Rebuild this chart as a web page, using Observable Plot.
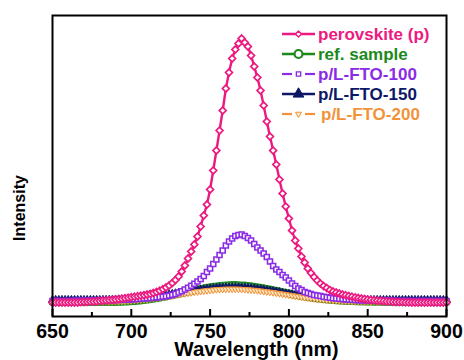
<!DOCTYPE html>
<html><head><meta charset="utf-8">
<script src="https://cdn.jsdelivr.net/npm/d3@7"></script>
<script src="https://cdn.jsdelivr.net/npm/@observablehq/plot@0.6"></script>
<style>
body{margin:0;background:#fff}
#chart{position:relative;width:464px;height:360px;overflow:hidden}
</style>
</head><body><div id="chart"></div>
<script>
// x grid of the spectra (nm)
const wavelengths = d3.range(650, 901, 2);
const xTicks = [650, 700, 750, 800, 850, 900];
const xMinorTicks = [675, 725, 775, 825, 875];
const seriesNames = ["perovskite (p)", "ref. sample", "p/L-FTO-100", "p/L-FTO-150", "p/L-FTO-200"];
const seriesColors = ["#ec1a80", "#1b8a1b", "#8a2be6", "#0c1766", "#f2933a"];

// intensity (a.u.), 650..900 nm every 2 nm
const perovskite = [
  0,0,0,0,0,0,0,0,0,0.3,
  0.5,0.6,0.8,1,1.2,1.5,1.8,2,2.3,2.7,
  3,3.4,3.8,4.3,4.8,5.3,5.8,6.3,6.8,7.4,
  8,8.7,9.5,10.5,11.8,13.3,15,17,19.5,22.5,
  26,31,37,44,51,58,66,76,87,98,
  113,132,152,172,192,214,230,244,253,259,
  264,260,256,247,236,225,212,197,181,166,
  152,138,123,109,96,84,72,62,54,46,
  40,34,29.5,25.5,22,19,16.5,14.5,12.5,11,
  10,9,8,7.3,6.5,5.8,5.1,4.5,4,3.5,
  3,2.6,2.2,1.9,1.6,1.3,1.1,0.9,0.7,0.5,
  0.4,0.3,0.2,0.1,0,0,0,0,0,0,
  0,0,0,0,0,0
];
const refSample = [
  0.5,0.5,0.5,0.5,0.5,0.5,0.5,0.5,0.5,0.5,
  0.5,0.5,0.5,0.5,0.4,0.4,0.4,0.4,0.4,0.5,
  0.5,0.6,0.7,0.8,1,1.2,1.4,1.7,2,2.4,
  2.8,3.2,3.7,4.2,4.8,5.4,6,6.7,7.4,8.1,
  8.8,9.5,10.2,10.9,11.6,12.3,13,13.6,14.2,14.8,
  15.3,15.8,16.2,16.6,16.9,17.2,17.4,17.5,17.5,17.4,
  17.2,17,16.7,16.3,15.9,15.4,14.9,14.3,13.7,13.1,
  12.4,11.8,11.1,10.4,9.7,9.1,8.4,7.8,7.2,6.6,
  6,5.5,5,4.5,4.1,3.7,3.3,3,2.7,2.4,
  2.2,2,1.8,1.6,1.4,1.3,1.2,1.1,1,0.9,
  0.8,0.8,0.7,0.7,0.7,0.6,0.6,0.6,0.6,0.5,
  0.5,0.5,0.5,0.5,0.5,0.5,0.5,0.5,0.5,0.5,
  0.5,0.5,0.5,0.5,0.5,0.5
];
const fto100 = [
  1.5,1.5,1.5,1.5,1.5,1.5,1.5,1.6,1.6,1.7,
  1.7,1.8,1.8,1.9,2,2,2.1,2.2,2.3,2.4,
  2.5,2.6,2.7,2.8,3,3.1,3.3,3.5,3.7,4,
  4.2,4.5,4.8,5.1,5.5,5.9,6.3,6.9,7.6,8.5,
  10,11.3,13,14.8,16.7,18.8,21,23.5,26.5,30.5,
  34,38.5,43,47.5,52,57,61,64,66.5,67.5,
  68,66.5,64.5,62,58.5,55,52,49,45.5,41,
  36.5,33,30.5,27.5,25,22,19,16.5,14,12.5,
  10.5,9.5,8.5,7.5,7,6.5,5.8,5.2,4.7,4.3,
  4,3.7,3.4,3.1,2.9,2.7,2.5,2.3,2.2,2.1,
  2,1.9,1.8,1.8,1.7,1.7,1.6,1.6,1.6,1.5,
  1.5,1.5,1.5,1.5,1.5,1.5,1.5,1.5,1.5,1.5,
  1.5,1.5,1.5,1.5,1.5,1.5
];
const fto150 = [
  2.5,2.5,2.5,2.5,2.5,2.5,2.5,2.5,2.5,2.5,
  2.5,2.5,2.5,2.5,2.5,2.5,2.6,2.6,2.7,2.8,
  2.9,3,3.1,3.3,3.5,3.7,3.9,4.2,4.5,4.8,
  5.1,5.5,5.9,6.3,6.7,7.1,7.6,8.1,8.6,9.1,
  9.6,10.1,10.6,11.1,11.6,12,12.4,12.8,13.2,13.6,
  13.9,14.2,14.5,14.7,14.9,15,15.1,15.2,15.2,15.1,
  15,14.8,14.6,14.3,14,13.6,13.2,12.8,12.3,11.8,
  11.3,10.8,10.3,9.7,9.2,8.7,8.2,7.7,7.2,6.7,
  6.3,5.9,5.5,5.1,4.8,4.5,4.2,3.9,3.7,3.5,
  3.3,3.1,3,2.9,2.8,2.7,2.6,2.6,2.5,2.5,
  2.5,2.5,2.5,2.5,2.5,2.5,2.5,2.5,2.5,2.5,
  2.5,2.5,2.5,2.5,2.5,2.5,2.5,2.5,2.5,2.5,
  2.5,2.5,2.5,2.5,2.5,2.5
];
const fto200 = [
  0.8,0.8,0.8,0.8,0.8,0.8,0.8,0.8,0.8,0.8,
  0.8,0.8,0.8,0.8,0.8,0.9,0.9,1,1,1.1,
  1.2,1.3,1.4,1.6,1.8,2,2.2,2.5,2.8,3.1,
  3.4,3.8,4.2,4.6,5,5.5,6,6.5,7,7.5,
  8,8.5,9,9.5,10,10.4,10.8,11.2,11.6,12,
  12.3,12.6,12.9,13.1,13.3,13.4,13.5,13.5,13.5,13.4,
  13.3,13.1,12.9,12.6,12.3,12,11.6,11.2,10.8,10.4,
  10,9.5,9,8.5,8,7.5,7,6.5,6,5.5,
  5.1,4.7,4.3,3.9,3.5,3.2,2.9,2.6,2.4,2.2,
  2,1.8,1.6,1.5,1.4,1.3,1.2,1.1,1,1,
  0.9,0.9,0.9,0.8,0.8,0.8,0.8,0.8,0.8,0.8,
  0.8,0.8,0.8,0.8,0.8,0.8,0.8,0.8,0.8,0.8,
  0.8,0.8,0.8,0.8,0.8,0.8
];

const toRows = arr => wavelengths.map((w, i) => ({w, v: arr[i]}));

const triangleDown = {
  draw(context, size) {
    const h = Math.sqrt(size / (Math.sqrt(3) * 3));
    context.moveTo(0, 2 * h);
    context.lineTo(-Math.sqrt(3) * h, -h);
    context.lineTo(Math.sqrt(3) * h, -h);
    context.closePath();
  }
};

const FONT = "'Liberation Sans', Arial, sans-serif";
const [cP, cG, cPu, cN, cO] = seriesColors;

const svg = Plot.plot({
  width: 464, height: 360,
  marginTop: 15, marginBottom: 44, marginLeft: 52, marginRight: 18,
  x: {domain: [650, 900], axis: null},
  y: {domain: [-14, 287], axis: null},
  style: {fontFamily: FONT, background: "white", overflow: "visible"},
  marks: [
    // series, back to front
    Plot.line(toRows(refSample), {x: "w", y: "v", stroke: cG, strokeWidth: 1.5}),
    Plot.dot(toRows(refSample), {x: "w", y: "v", symbol: "circle", r: 3.2, fill: "#6fb86f", stroke: cG, strokeWidth: 1.4}),
    Plot.line(toRows(fto150), {x: "w", y: "v", stroke: cN, strokeWidth: 1.8}),
    Plot.dot(toRows(fto150), {x: "w", y: "v", symbol: "triangle", r: 3, fill: cN, stroke: cN, strokeWidth: 0.8}),
    Plot.dot(toRows(fto200), {x: "w", y: "v", symbol: triangleDown, r: 2.4, fill: "#fbe6c0", stroke: cO, strokeWidth: 1}),
    Plot.dot(toRows(fto100), {x: "w", y: "v", symbol: "square", r: 2.8, fill: "white", stroke: cPu, strokeWidth: 1.6}),
    Plot.line(toRows(perovskite), {x: "w", y: "v", stroke: cP, strokeWidth: 2.4}),
    Plot.dot(toRows(perovskite), {x: "w", y: "v", symbol: "diamond2", r: 3.1, fill: "white", stroke: cP, strokeWidth: 1.7}),
    // inward ticks
    Plot.ruleX(xTicks, {x: d => d, insetTop: 294, stroke: "black", strokeWidth: 2}),
    Plot.ruleX(xMinorTicks, {x: d => d, insetTop: 297, stroke: "black", strokeWidth: 2}),
    Plot.axisX({ticks: xTicks, tickSize: 0, tickPadding: 8, label: null, tickFormat: d => String(d)}),
    Plot.frame({stroke: "black", strokeWidth: 2})
  ]
});

const root = d3.select(svg);
// tick labels: bold
root.selectAll("text")
  .style("font-family", FONT).style("font-size", "19.5px").style("font-weight", "bold").attr("fill", "black");

// axis titles
root.append("text").attr("x", 256.5).attr("y", 356).attr("text-anchor", "middle")
  .style("font-family", FONT).style("font-weight", "bold").style("font-size", "20.5px").attr("fill", "black")
  .text("Wavelength (nm)");
root.append("text").attr("transform", "translate(25,208) rotate(-90)").attr("text-anchor", "middle")
  .style("font-family", FONT).style("font-weight", "bold").style("font-size", "16px").attr("fill", "black")
  .text("Intensity");

// legend
const legendSymbols = [
  {type: d3.symbolDiamond2, size: 22, fill: "white", sw: 1.4, dashed: false},
  {type: d3.symbolCircle, size: 50, fill: "white", sw: 2.2, dashed: false},
  {type: d3.symbolSquare, size: 18, fill: "white", sw: 1.4, dashed: true},
  {type: d3.symbolTriangle, size: 50, fill: cN, sw: 1, dashed: false},
  {type: triangleDown, size: 16, fill: "#fbe6c0", sw: 1, dashed: true}
];
const leg = root.append("g");
seriesNames.forEach((name, i) => {
  const y = 34 + i * 20;
  const c = seriesColors[i];
  const s = legendSymbols[i];
  const g = leg.append("g");
  if (s.dashed) {
    g.append("line").attr("x1", 282).attr("x2", 292).attr("y1", y).attr("y2", y).attr("stroke", c).attr("stroke-width", 2.2);
    g.append("line").attr("x1", 305).attr("x2", 315).attr("y1", y).attr("y2", y).attr("stroke", c).attr("stroke-width", 2.2);
  } else {
    g.append("line").attr("x1", 282).attr("x2", 315).attr("y1", y).attr("y2", y).attr("stroke", c).attr("stroke-width", 2.5);
  }
  g.append("path").attr("d", d3.symbol(s.type, s.size)()).attr("transform", `translate(298.5,${y})`)
    .attr("fill", s.fill).attr("stroke", c).attr("stroke-width", s.sw);
  g.append("text").attr("x", i === 4 ? 321 : 318).attr("y", y).attr("dy", "0.36em")
    .attr("text-anchor", "start")
    .style("font-family", FONT).style("font-weight", "bold").style("font-size", "17px").attr("fill", c)
    .text(name);
});

document.getElementById("chart").appendChild(svg);
</script>
</body></html>
